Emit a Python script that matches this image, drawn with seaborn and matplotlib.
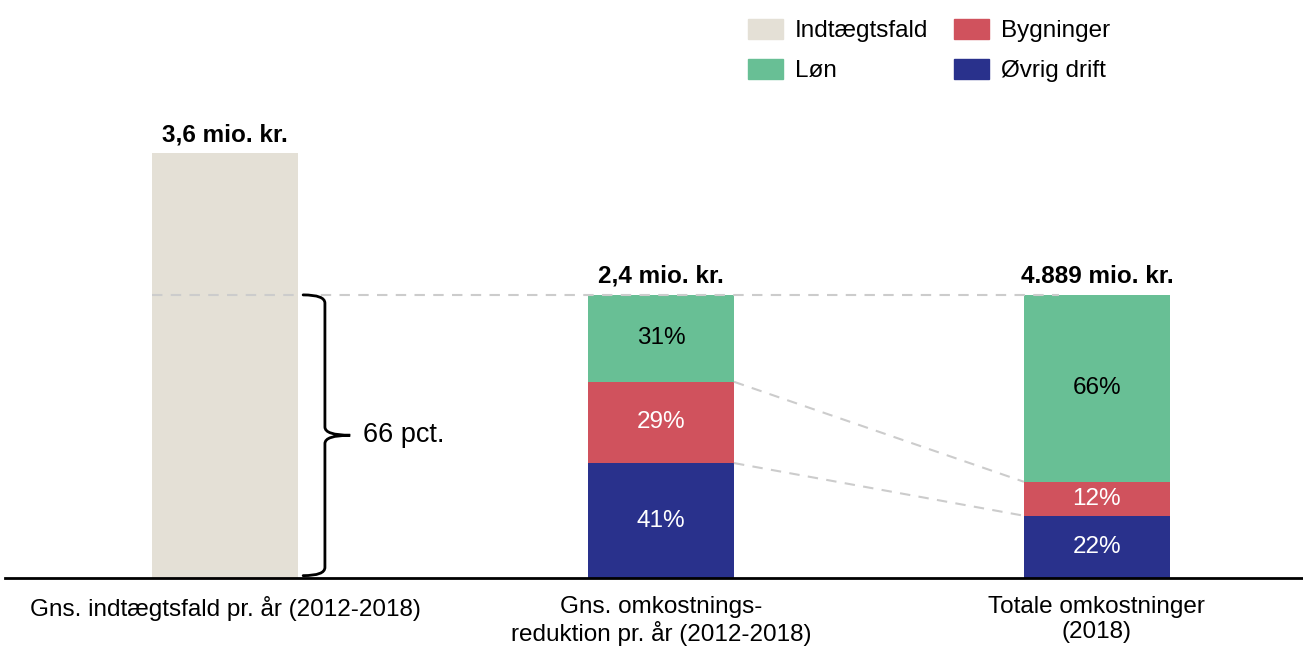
import numpy as np
import pandas as pd
import matplotlib
matplotlib.use("Agg")
import matplotlib.pyplot as plt
from matplotlib.patches import PathPatch, Patch
from matplotlib.path import Path
import seaborn as sns

# ---- data ----
categories = ["Gns. indtægtsfald pr. år (2012-2018)",
              "Gns. omkostnings-\nreduktion pr. år (2012-2018)",
              "Totale omkostninger\n(2018)"]
totals_label = ["3,6 mio. kr.", "2,4 mio. kr.", "4.889 mio. kr."]
income_drop = 3.6              # mio. kr. per year
cost_reduction = 2.4           # mio. kr. per year
segments = ["Øvrig drift", "Bygninger", "Løn"]      # bottom -> top
shares_reduction = [41, 29, 31]   # pct. of cost reduction
shares_total = [22, 12, 66]       # pct. of total costs 2018
brace_label = "66 pct."

colors = {"Indtægtsfald": "#E4E0D6", "Løn": "#68BF95",
          "Bygninger": "#D0525D", "Øvrig drift": "#29318C"}
text_colors = {"Løn": "black", "Bygninger": "white", "Øvrig drift": "white"}

# composition bars are drawn at the height of the cost reduction
def seg_heights(shares, height):
    s = np.array(shares, dtype=float)
    return s / s.sum() * height

h_red = seg_heights(shares_reduction, cost_reduction)
h_tot = seg_heights(shares_total, cost_reduction)

rows = [dict(cat=categories[0], seg="Indtægtsfald", h=income_drop, bottom=0.0)]
for cat, hs in [(categories[1], h_red), (categories[2], h_tot)]:
    b = 0.0
    for seg, h in zip(segments, hs):
        rows.append(dict(cat=cat, seg=seg, h=h, bottom=b))
        b += h
df = pd.DataFrame(rows)
df["top"] = df["bottom"] + df["h"]

sns.set_theme(style="white")
plt.rcParams["font.family"] = ["Liberation Sans", "DejaVu Sans"]
plt.rcParams["text.color"] = "black"
plt.rcParams["xtick.color"] = "black"

fig = plt.figure(figsize=(13.03, 6.46), dpi=100)
ax = fig.add_axes([5 / 1303, 68 / 646, 1298 / 1303, 578 / 646])

width = 0.335
# stacked bars: draw cumulative tops from the top segment downwards
layers = ["Indtægtsfald", "Løn", "Bygninger", "Øvrig drift"]
for seg in layers:
    sub = df[df["seg"] == seg]
    sns.barplot(data=sub, x="cat", y="top", order=categories,
                color=colors[seg], width=width, saturation=1,
                linewidth=0, ax=ax, zorder=2)

ax.set_xlim(-0.505, 2.473)
ax.set_ylim(0, 4.9)
ax.set_xlabel("")
ax.set_ylabel("")
ax.set_yticks([])
for s in ["top", "left", "right"]:
    ax.spines[s].set_visible(False)
ax.spines["bottom"].set_color("black")
ax.spines["bottom"].set_linewidth(2)
ax.tick_params(axis="x", length=0, pad=13, labelsize=17.5, labelcolor="black")
for t in ax.get_xticklabels():
    t.set_linespacing(1.15)
    t.set_verticalalignment("top")

# segment percentage labels
for _, r in df[df["seg"] != "Indtægtsfald"].iterrows():
    xi = categories.index(r["cat"])
    share = (shares_reduction if xi == 1 else shares_total)[segments.index(r["seg"])]
    ax.text(xi, r["bottom"] + r["h"] / 2, f"{share}%", ha="center", va="center",
            fontsize=17.5, color=text_colors[r["seg"]], zorder=5)

# totals above bars
tops = [income_drop, cost_reduction, cost_reduction]
for xi, (lab, t) in enumerate(zip(totals_label, tops)):
    ax.annotate(lab, (xi, t), xytext=(0, 5), textcoords="offset points",
                ha="center", va="bottom", fontsize=17.5, fontweight="bold",
                color="black")

# dashed reference lines
dash = dict(color="#CCCCCC", lw=1.5, ls=(0, (5, 4)), zorder=4)
ax.plot([-width / 2, 2 - width / 2 + 0.08], [cost_reduction] * 2, **dash)
cum_red = np.cumsum(h_red)
cum_tot = np.cumsum(h_tot)
for i in range(2):
    ax.plot([1 + width / 2, 2 - width / 2], [cum_red[i], cum_tot[i]], **dash)

# curly brace marking the share of the income drop
xa, xv, xt = 0.179, 0.229, 0.287
y0, y1 = 0.02, cost_reduction
ym = (y0 + y1) / 2
dy = 0.07
verts = [(xa, y1), (xv, y1), (xv, y1 - dy),
         (xv, ym + dy),
         (xv, ym), (xt, ym),
         (xv, ym), (xv, ym - dy),
         (xv, y0 + dy),
         (xv, y0), (xa, y0)]
codes = [Path.MOVETO, Path.CURVE3, Path.CURVE3,
         Path.LINETO,
         Path.CURVE3, Path.CURVE3,
         Path.CURVE3, Path.CURVE3,
         Path.LINETO,
         Path.CURVE3, Path.CURVE3]
ax.add_patch(PathPatch(Path(verts, codes), fill=False, lw=2, color="black",
                       capstyle="round", zorder=5))
ax.text(xt + 0.03, ym, brace_label, ha="left", va="center", fontsize=19.5)

# legend
labels = ["Indtægtsfald", "Løn", "Bygninger", "Øvrig drift"]
handles = [Patch(color=colors[k]) for k in labels]
fig.legend(handles, labels, ncol=2, loc="upper left",
           bbox_to_anchor=(748 / 1303, 1 - 19 / 646), frameon=False,
           fontsize=17.5, handlelength=1.44, handleheight=0.9,
           handletextpad=0.5, columnspacing=1.03, labelspacing=0.66,
           borderpad=0, borderaxespad=0)

fig.savefig("out.png", dpi=100)
